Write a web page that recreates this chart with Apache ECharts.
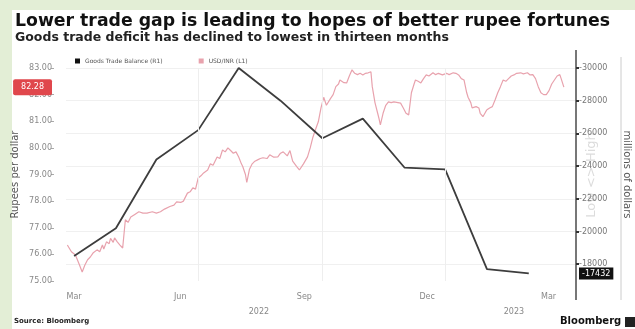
<!DOCTYPE html>
<html>
<head>
<meta charset="utf-8">
<script src="https://cdn.jsdelivr.net/npm/echarts@6/dist/echarts.min.js"></script>
<style>
  html, body { margin: 0; padding: 0; background: #e3eed6; }
  #chart { width: 635px; height: 329px; }
</style>
</head>
<body>
<div id="chart"></div>
<script>
// USD/INR, days counted from 1 Mar 2022
const inrDays = [
  -5, -2, 1, 4, 6, 8, 10, 12, 14, 17,
  19, 21, 22, 24, 26, 27, 29, 30, 32, 34,
  36, 38, 40, 42, 45, 48, 51, 54, 58, 61,
  64, 67, 71, 74, 76, 79, 81, 84, 86, 88,
  90, 92, 94, 96, 99, 101, 103, 106, 108, 110,
  112, 114, 116, 118, 120, 122, 124, 125, 127, 128,
  130, 132, 134, 136, 138, 140, 143, 145, 148, 151,
  153, 155, 158, 160, 162, 165, 167, 170, 173, 175,
  177, 179, 181, 183, 185, 187, 188, 190, 192, 194,
  196, 197, 200, 202, 204, 206, 208, 210, 212, 214,
  216, 218, 220, 221, 223, 225, 226, 227, 229, 231,
  233, 235, 237, 240, 242, 244, 246, 248, 250, 252,
  253, 255, 257, 259, 261, 263, 266, 268, 270, 273,
  276, 278, 281, 283, 285, 287, 289, 291, 292, 294,
  295, 296, 298, 300, 301, 303, 305, 306, 308, 310,
  312, 314, 316, 318, 320, 322, 324, 326, 328, 331,
  333, 336, 338, 340, 342, 344, 346, 348, 350, 352,
  354, 356, 358, 360, 361, 363
];
const inrValues = [
  76.35, 76.1, 75.98, 75.6, 75.34, 75.6, 75.8, 75.9, 76.05, 76.17,
  76.1, 76.35, 76.2, 76.47, 76.4, 76.6, 76.45, 76.62, 76.47, 76.35,
  76.24, 77.3, 77.2, 77.4, 77.5, 77.6, 77.55, 77.55, 77.6, 77.55,
  77.6, 77.7, 77.8, 77.85, 77.97, 77.95, 78.0, 78.3, 78.35, 78.5,
  78.45, 78.87, 78.95, 79.06, 79.17, 79.4, 79.35, 79.66, 79.6, 79.92,
  79.85, 80.0, 79.9, 79.8, 79.85, 79.66, 79.4, 79.3, 79.0, 78.7,
  79.2, 79.4, 79.5, 79.55, 79.6, 79.63, 79.6, 79.74, 79.65, 79.66,
  79.8, 79.85, 79.7, 79.9, 79.5, 79.3, 79.17, 79.4, 79.66, 80.0,
  80.4, 80.7, 80.98, 81.5, 81.9, 81.6, 81.65, 81.85, 82.0, 82.3,
  82.4, 82.55, 82.45, 82.44, 82.7, 82.93, 82.8, 82.75, 82.8, 82.74,
  82.8, 82.82, 82.86, 82.3, 81.7, 81.3, 81.1, 80.86, 81.3, 81.6,
  81.73, 81.7, 81.73, 81.7, 81.68, 81.5, 81.3, 81.24, 82.07, 82.4,
  82.55, 82.5, 82.44, 82.6, 82.74, 82.7, 82.82, 82.75, 82.8, 82.74,
  82.8, 82.75, 82.82, 82.8, 82.74, 82.6, 82.55, 82.07, 81.9, 81.7,
  81.5, 81.43, 81.55, 81.5, 81.3, 81.17, 81.35, 81.43, 81.5, 81.55,
  81.8, 82.07, 82.3, 82.55, 82.5, 82.6, 82.7, 82.74, 82.8, 82.82,
  82.78, 82.82, 82.74, 82.75, 82.6, 82.3, 82.07, 82.0, 82.0, 82.15,
  82.4, 82.55, 82.7, 82.75, 82.6, 82.28
];

// goods trade balance, millions of dollars
const tradeMonths = ['2022-03-01', '2022-04-01', '2022-05-01', '2022-06-01', '2022-07-01', '2022-08-01',
  '2022-09-01', '2022-10-01', '2022-11-01', '2022-12-01', '2023-01-01', '2023-02-01'];
const tradeValues = [-18500, -20200, -24400, -26200, -30000, -28000,
  -25700, -26900, -23900, -23800, -17700, -17432];

const monthTicks = ['2022-03-01', '2022-06-01', '2022-09-01', '2022-12-01', '2023-03-01'];
const monthLabels = ['Mar', 'Jun', 'Sep', 'Dec', 'Mar'];
const yearTicks = ['2022-07-16', '2023-01-21'];
const yearLabels = ['2022', '2023'];
const quarterLines = ['2022-06-01', '2022-09-01', '2022-12-01'];
const leftTicks = [75, 76, 77, 78, 79, 80, 81, 82, 83];
const rightTicks = [-30000, -28000, -26000, -24000, -22000, -20000, -18000];
const lastInr = 82.28;
const lastTrade = -17432;
const xStart = '2022-02-23';
const xEnd = '2023-03-08';

function toTime(s) {
  const p = s.split('-').map(Number);
  return new Date(p[0], p[1] - 1, p[2]).getTime();
}
function dayToTime(d) {
  return new Date(2022, 2, 1 + d).getTime();
}

const monthTickTimes = monthTicks.map(toTime);
const yearTickTimes = yearTicks.map(toTime);

const chart = echarts.init(document.getElementById('chart'));

chart.setOption({
  animation: false,
  backgroundColor: '#e3eed6',
  textStyle: { fontFamily: 'DejaVu Sans' },
  title: {
    text: 'Lower trade gap is leading to hopes of better rupee fortunes',
    subtext: 'Goods trade deficit has declined to lowest in thirteen months',
    left: 10,
    top: 8,
    itemGap: 1,
    textStyle: { fontSize: 17.3, fontWeight: 'bold', color: '#111' },
    subtextStyle: { fontSize: 12.5, fontWeight: 'bold', color: '#222' }
  },
  legend: {
    data: ['Goods Trade Balance (R1)', 'USD/INR (L1)'],
    left: 70,
    top: 53,
    icon: 'rect',
    itemWidth: 5,
    itemHeight: 5,
    itemGap: 36,
    textStyle: { fontSize: 6, color: '#555' }
  },
  grid: { left: 66, right: 59, top: 68, bottom: 48, containLabel: false, outerBoundsMode: 'none' },
  xAxis: [
    {
      type: 'value',
      min: toTime(xStart),
      max: toTime(xEnd),
      axisLine: { show: false },
      axisTick: { show: false },
      splitLine: { show: false },
      axisLabel: {
        customValues: monthTickTimes,
        margin: 12,
        fontSize: 8,
        color: '#888',
        formatter: function (v) {
          const i = monthTickTimes.indexOf(v);
          return i === 0 ? '{a|' + monthLabels[i] + '}' : '{b|' + monthLabels[i] + '}';
        },
        rich: {
          a: { fontSize: 8, color: '#888' },
          b: { fontSize: 8, color: '#888', padding: [0, 36, 0, 0] }
        }
      }
    },
    {
      type: 'value',
      min: toTime(xStart),
      max: toTime(xEnd),
      position: 'bottom',
      offset: 15,
      axisLine: { show: false },
      axisTick: { show: false },
      splitLine: { show: false },
      axisLabel: {
        customValues: yearTickTimes,
        margin: 12,
        fontSize: 8,
        color: '#888',
        formatter: function (v) {
          return yearLabels[yearTickTimes.indexOf(v)];
        }
      }
    }
  ],
  yAxis: [
    {
      type: 'value',
      position: 'left',
      min: 75,
      max: 83,
      interval: 1,
      offset: 12,
      name: 'Rupees per dollar',
      nameLocation: 'middle',
      nameGap: 34,
      nameMoveOverlap: false,
      nameTextStyle: { fontSize: 10, color: '#555' },
      axisLine: { show: false },
      axisTick: { show: true, length: 3, customValues: leftTicks, lineStyle: { color: '#aaa' } },
      splitLine: { show: false },
      axisLabel: {
        customValues: leftTicks.concat([lastInr]),
        showMinLabel: true,
        showMaxLabel: true,
        hideOverlap: false,
        margin: 2,
        fontSize: 8,
        color: '#888',
        formatter: function (v) {
          return v === lastInr ? '{hl|' + v.toFixed(2) + '}' : v.toFixed(2);
        },
        rich: {
          hl: { backgroundColor: '#e0474c', color: '#fff', fontSize: 8, padding: [4, 8], borderRadius: 2 }
        }
      }
    },
    {
      type: 'value',
      position: 'right',
      inverse: true,
      min: -30000,
      max: -16970,
      interval: 2000,
      name: 'millions of dollars',
      nameLocation: 'middle',
      nameRotate: -90,
      nameGap: 46,
      nameMoveOverlap: false,
      nameTextStyle: { fontSize: 10, color: '#555' },
      axisLine: { show: true, lineStyle: { color: '#777', width: 2 } },
      axisTick: { show: true, length: 3, customValues: rightTicks, lineStyle: { color: '#333', width: 2 } },
      splitLine: { show: true, lineStyle: { color: '#f0f0f0' } },
      axisLabel: {
        customValues: rightTicks,
        showMinLabel: true,
        showMaxLabel: true,
        hideOverlap: false,
        margin: 3,
        fontSize: 8,
        color: '#777',
        formatter: function (v) { return String(v); }
      }
    },
    {
      // same scale as the trade axis, only carries the last-value badge
      type: 'value',
      position: 'right',
      inverse: true,
      min: -30000,
      max: -16970,
      interval: 2000,
      axisLine: { show: false },
      axisTick: { show: false },
      splitLine: { show: false },
      axisLabel: {
        customValues: [lastTrade],
        showMinLabel: true,
        showMaxLabel: true,
        margin: 3,
        fontSize: 8,
        formatter: function (v) { return '{hl|' + v + '}'; },
        rich: {
          hl: { backgroundColor: '#111', color: '#fff', fontSize: 8, padding: [2, 3] }
        }
      }
    }
  ],
  graphic: [
    { type: 'rect', z: -10, shape: { x: 12, y: 10, width: 623, height: 319 }, style: { fill: '#fff' } },
    { type: 'line', shape: { x1: 576, y1: 50, x2: 576, y2: 300 }, style: { stroke: '#777', lineWidth: 2 } },
    { type: 'line', shape: { x1: 621, y1: 57, x2: 621, y2: 300 }, style: { stroke: '#ccc', lineWidth: 1 } },
    {
      type: 'text', x: 592, y: 175, rotation: Math.PI / 2,
      style: { text: 'Low <> High', fontSize: 13, fill: '#dcdcdc', align: 'center', verticalAlign: 'middle', fontFamily: 'DejaVu Sans' }
    },
    {
      type: 'text', left: 14, top: 318,
      style: { text: 'Source: Bloomberg', fontSize: 7, fontWeight: 'bold', fill: '#222', fontFamily: 'DejaVu Sans' }
    },
    {
      type: 'text', left: 560, top: 316,
      style: { text: 'Bloomberg', fontSize: 10, fontWeight: 'bold', fill: '#111', fontFamily: 'DejaVu Sans' }
    },
    { type: 'rect', shape: { x: 625, y: 317, width: 10, height: 10 }, style: { fill: '#222' } }
  ],
  series: [
    {
      name: 'USD/INR (L1)',
      type: 'line',
      xAxisIndex: 0,
      yAxisIndex: 0,
      showSymbol: false,
      color: '#e8a2ad',
      lineStyle: { color: '#e8a2ad', width: 1.2 },
      data: inrDays.map((d, i) => [dayToTime(d), inrValues[i]]),
      markLine: {
        silent: true,
        symbol: 'none',
        label: { show: false },
        lineStyle: { color: '#eeeeee', type: 'solid', width: 1 },
        data: quarterLines.map(d => ({ xAxis: toTime(d) }))
      },
      z: 2
    },
    {
      name: 'Goods Trade Balance (R1)',
      type: 'line',
      xAxisIndex: 0,
      yAxisIndex: 1,
      showSymbol: false,
      color: '#111',
      lineStyle: { color: '#3d3d3d', width: 1.8 },
      data: tradeMonths.map((m, i) => [toTime(m), tradeValues[i]]),
      z: 3
    }
  ]
});
</script>
</body>
</html>
